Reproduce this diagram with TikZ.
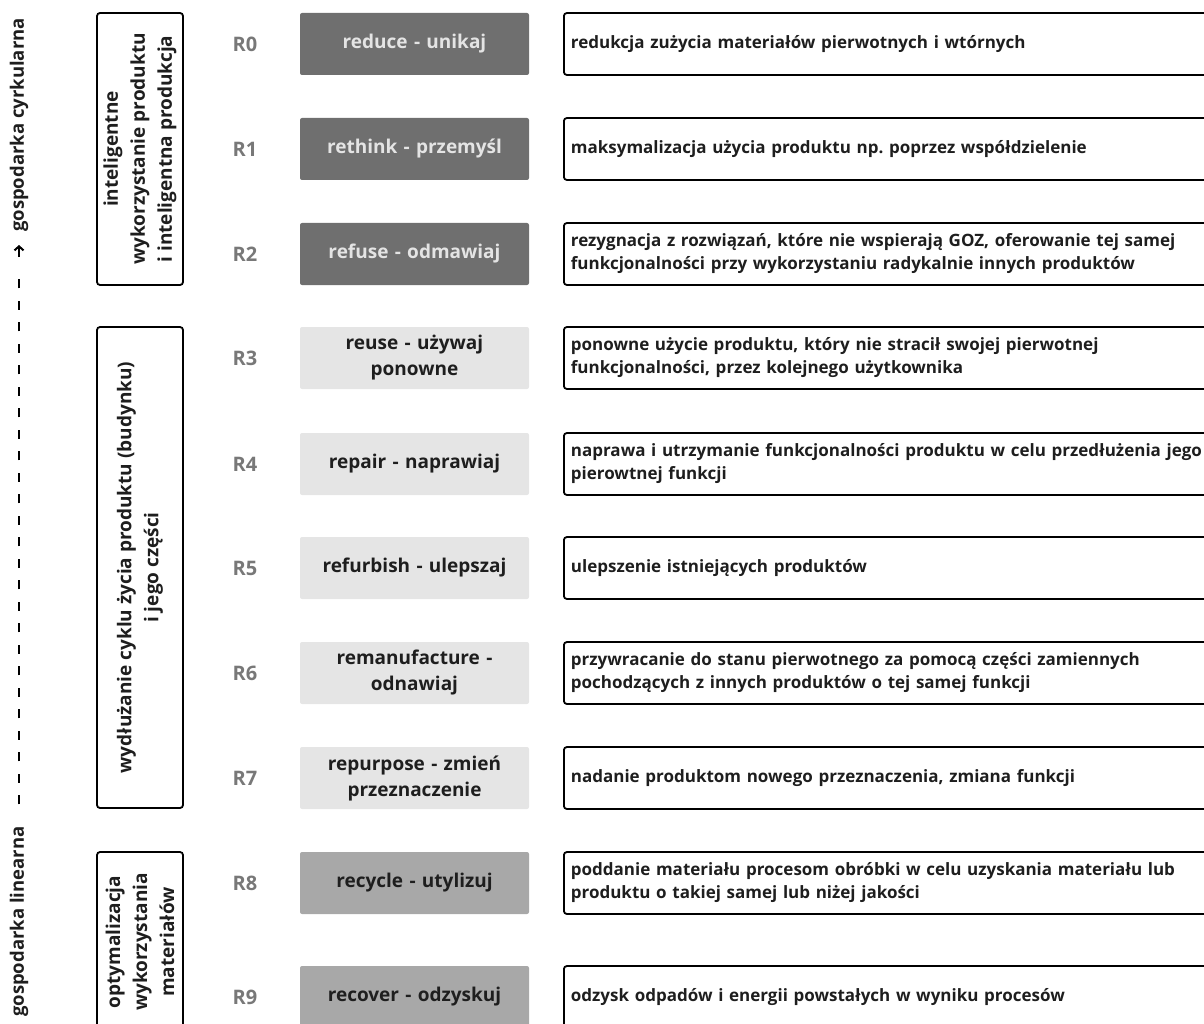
\documentclass[tikz,border=0pt]{standalone}
\usepackage{fontspec}
\setmainfont{Open Sans}
\usetikzlibrary{arrows.meta}
\frenchspacing
\definecolor{ciemny}{HTML}{6F6F6F}
\definecolor{jasny}{HTML}{E5E5E5}
\definecolor{sredni}{HTML}{A8A8A8}
\definecolor{etykieta}{HTML}{787878}
\definecolor{napisjasny}{HTML}{E4E4E4}
\definecolor{napis}{HTML}{1E1E1E}
\tikzset{
  tekst/.style={font=\fontsize{17}{23}\selectfont\bfseries},
  rbox/.style={font=\fontsize{19}{26}\selectfont\bfseries, rounded corners=2pt, inner sep=0pt,
    minimum width=229pt, minimum height=62pt, text width=229pt, align=center},
  rciemny/.style={rbox, fill=ciemny, text=napisjasny},
  rjasny/.style={rbox, fill=jasny, text=napis},
  rsredni/.style={rbox, fill=sredni, text=napis},
  opis/.style={tekst, draw, line width=1.8pt, rounded corners=3pt, anchor=west,
    minimum height=62pt, text width=700pt, inner xsep=7pt, align=left, text=napis},
  grupa/.style={font=\fontsize{19}{27}\selectfont\bfseries, draw, line width=1.8pt,
    rounded corners=3pt, rotate=90, minimum height=86pt, align=center, text=napis},
  os/.style={font=\fontsize{18.5}{23}\selectfont\bfseries, rotate=90, text=napis, inner sep=0pt},
  poziom/.style={font=\fontsize{20}{23}\selectfont\bfseries, text=etykieta}
}
\begin{document}
\begin{tikzpicture}[x=1pt,y=-1pt]
  \useasboundingbox (0,0) rectangle (1204,1024);
  \clip (0,0) rectangle (1204,1024);
  % os: gospodarka linearna -> cyrkularna
  \node[os,anchor=west] (linearna) at (19,1017) {gospodarka linearna};
  \node[os,anchor=east] (cyrkularna) at (19,18) {gospodarka cyrkularna};
  \coordinate (grot) at ([yshift=-13pt]cyrkularna.west);
  \draw[line width=2pt, dash pattern=on 9pt off 12.5pt, shorten <=22pt, shorten >=24pt]
    (linearna.east) -- (grot);
  \draw[line width=2pt, -{Straight Barb[length=4pt,width=9pt,line width=2pt]}]
    ([yshift=-12pt]grot) -- (grot);
  % grupy
  \node[grupa, minimum width=272pt] (inteligentne) at (140,149)
    {inteligentne\\wykorzystanie produktu\\i inteligentna produkcja};
  \node[grupa, minimum width=481pt] (wydluzanie) at (140,567.5)
    {wydłużanie cyklu życia produktu (budynku)\\i jego części};
  \node[grupa, minimum width=180pt] (optymalizacja) at (140,942)
    {optymalizacja\\wykorzystania\\materiałów};
  % poziomy R0--R9
  \foreach \i/\y/\kolor/\nazwa/\opis in {
    0/44/rciemny/{reduce - unikaj}/{redukcja zużycia materiałów pierwotnych i wtórnych},
    1/149/rciemny/{rethink - przemyśl}/{maksymalizacja użycia produktu np. poprzez współdzielenie},
    2/254/rciemny/{refuse - odmawiaj}/{rezygnacja z rozwiązań, które nie wspierają GOZ, oferowanie tej samej\\funkcjonalności przy wykorzystaniu radykalnie innych produktów},
    3/358/rjasny/{reuse - używaj\\ponowne}/{ponowne użycie produktu, który nie stracił swojej pierwotnej\\funkcjonalności, przez kolejnego użytkownika},
    4/464/rjasny/{repair - naprawiaj}/{naprawa i utrzymanie funkcjonalności produktu w celu przedłużenia jego\\pierowtnej funkcji},
    5/568/rjasny/{refurbish - ulepszaj}/{ulepszenie istniejących produktów},
    6/673/rjasny/{remanufacture -\\odnawiaj}/{przywracanie do stanu pierwotnego za pomocą części zamiennych\\pochodzących z innych produktów o tej samej funkcji},
    7/778/rjasny/{repurpose - zmień\\przeznaczenie}/{nadanie produktom nowego przeznaczenia, zmiana funkcji},
    8/883/rsredni/{recycle - utylizuj}/{poddanie materiału procesom obróbki w celu uzyskania materiału lub\\produktu o takiej samej lub niżej jakości},
    9/997/rsredni/{recover - odzyskuj}/{odzysk odpadów i energii powstałych w wyniku procesów}}
  {
    \node[poziom] (r\i) at (245,\y) {R\i};
    \node[\kolor] (b\i) at (414.5,\y) {\nazwa};
    \node[opis] (d\i) at (563,\y) {\opis};
  }
\end{tikzpicture}
\end{document}
